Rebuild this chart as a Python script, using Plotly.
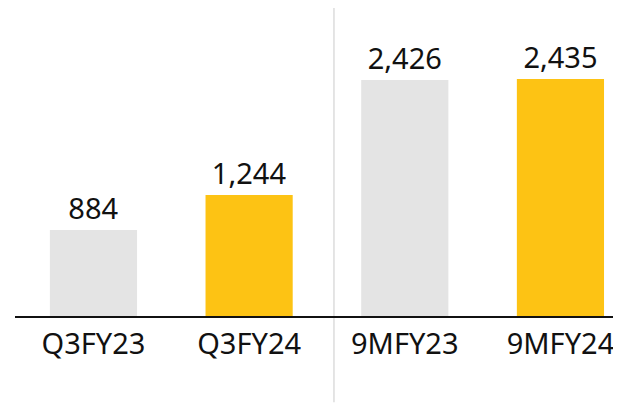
import plotly.graph_objects as go

periods = ["Q3FY23", "Q3FY24", "9MFY23", "9MFY24"]
values = [884, 1244, 2426, 2435]
bar_colors = ["#e4e4e4", "#fdc314", "#e4e4e4", "#fdc314"]

FONT = "Noto Sans"

fig = go.Figure(
    go.Bar(
        x=periods,
        y=values,
        marker=dict(color=bar_colors, line=dict(width=0)),
        width=0.56,
        text=[f"{v:,}" for v in values],
        textposition="outside",
        textfont=dict(size=29, color="#111111", family=FONT),
        constraintext="none",
        cliponaxis=False,
    )
)

# divider between quarter and nine-month figures
fig.add_shape(
    type="line", xref="x", yref="paper",
    x0=1.545, x1=1.545, y0=-0.28, y1=1.0,
    line=dict(color="#dcdcdc", width=1.5),
    layer="below",
)

# page body has an 8px margin, so the margins are shifted to compensate
fig.update_layout(
    width=621, height=404,
    margin=dict(l=7, r=8, t=0, b=96, autoexpand=False),
    plot_bgcolor="white",
    paper_bgcolor="white",
    showlegend=False,
    font=dict(family=FONT, color="#111111"),
)
fig.update_xaxes(
    range=[-0.504, 3.389],
    automargin=False,
    showline=True, linecolor="#111111", linewidth=2,
    showgrid=False, zeroline=False,
    ticks="outside", ticklen=1, tickcolor="rgba(0,0,0,0)",
    tickfont=dict(size=29, color="#111111", family=FONT),
)
fig.update_yaxes(
    range=[0, 3165], visible=False, showgrid=False, zeroline=False,
    automargin=False,
)

fig.write_html("out.html")
